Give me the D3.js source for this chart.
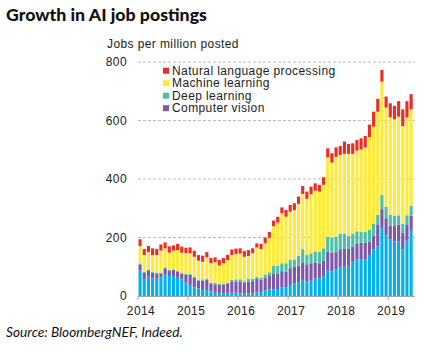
<!DOCTYPE html>
<html><head><meta charset="utf-8">
<script src="https://cdn.jsdelivr.net/npm/d3@7"></script>
<style>
html,body{margin:0;padding:0;background:#fff;}
svg{display:block;}
</style></head>
<body>
<svg id="c" width="431" height="351"></svg>
<script>
// ---- data (cumulative reading converted to series values) ----
const months = d3.range(66).map(i => new Date(2014, i, 1));
const yearLabels = ["2014","2015","2016","2017","2018","2019"];
const yTicks = [0, 200, 400, 600, 800];

// cumulative tops
const totalTop  = [194,161,171,163,161,176,183,170,173,178,169,165,166,155,140,138,150,130,132,123,130,141,159,162,163,154,157,163,180,178,200,219,258,271,303,294,311,317,340,376,357,374,385,380,406,505,488,508,513,528,520,522,533,539,547,586,630,674,773,682,659,650,666,638,666,690];
const mlTop     = [171,140,150,140,140,155,163,148,155,157,148,147,146,134,121,117,132,112,116,104,112,123,140,144,145,134,137,146,166,160,180,199,239,251,283,271,288,294,315,349,332,348,360,357,380,474,456,476,482,486,486,486,497,501,508,543,579,630,733,644,611,604,613,581,610,638];
const dlTop     = [111,82,91,82,80,80,98,89,91,87,80,76,75,67,56,57,60,46,45,42,43,46,55,57,57,51,58,59,66,63,74,81,103,103,112,112,123,125,137,160,140,146,152,152,163,203,200,203,212,212,206,212,221,219,219,226,248,277,345,305,277,275,276,246,276,309];
const cvTop     = [108,79,88,79,77,77,95,87,89,84,77,72,72,63,52,52,56,41,40,38,39,41,48,50,50,46,49,51,59,55,63,71,75,77,85,83,95,100,104,115,106,112,115,112,120,152,148,150,160,161,161,169,180,182,182,186,205,245,297,266,240,239,244,217,243,275];
const otherTop  = [88,58,68,60,59,64,75,68,68,62,57,46,38,30,26,21,21,15,11,9,9,11,11,11,9,8,9,9,12,14,18,23,23,24,30,30,38,43,46,55,49,52,60,60,66,87,84,91,98,100,103,117,125,126,126,140,160,169,233,208,194,186,186,160,189,223];

// series values (each segment)
const other = otherTop.slice();
const computerVision = cvTop.map((v,i) => v - otherTop[i]);
const deepLearning = dlTop.map((v,i) => v - cvTop[i]);
const machineLearning = mlTop.map((v,i) => v - dlTop[i]);
const nlp = totalTop.map((v,i) => v - mlTop[i]);

const seriesKeys = ["other","cv","dl","ml","nlp"];
const seriesColors = {other:"#03b0ee", cv:"#7d57a8", dl:"#4cbfa6", ml:"#ffea3a", nlp:"#ee2c25"};
const legendItems = [
  {key:"nlp", label:"Natural language processing"},
  {key:"ml",  label:"Machine learning"},
  {key:"dl",  label:"Deep learning"},
  {key:"cv",  label:"Computer vision"}
];

const table = months.map((m,i) => ({month:m, other:other[i], cv:computerVision[i], dl:deepLearning[i], ml:machineLearning[i], nlp:nlp[i]}));

// ---- drawing ----
const svg = d3.select("#c");
const font = "'Liberation Sans', Arial, sans-serif";
const x = d3.scaleBand().domain(d3.range(66)).range([138, 413.2]).paddingInner(0.25).paddingOuter(0.125);
const y = d3.scaleLinear().domain([0, 800]).range([296, 62]);

// title
const title = svg.append("text").attr("x", 6).attr("y", 21)
  .attr("font-family", "Lato, 'Open Sans', sans-serif").attr("font-weight", 900)
  .attr("font-size", 16).attr("fill", "#111").text("Growth in AI job postings");
{ const w = title.node().getComputedTextLength(); title.attr("font-size", 16 * 201 / w); }

// axis title
svg.append("text").attr("x", 107).attr("y", 48)
  .attr("font-family", font).attr("font-size", 12).attr("letter-spacing", "0.4px")
  .attr("fill", "#222").text("Jobs per million posted");

// gridlines
svg.append("g").selectAll("line").data(yTicks.filter(d => d > 0)).join("line")
  .attr("x1", 138).attr("x2", 415).attr("y1", d => y(d)).attr("y2", d => y(d))
  .attr("stroke", "#bdbdbd").attr("stroke-width", 1).attr("stroke-dasharray", "3,2");

// y labels
svg.append("g").selectAll("text").data(yTicks).join("text")
  .attr("x", 127).attr("y", d => y(d)).attr("dy", "0.35em").attr("text-anchor", "end")
  .attr("font-family", font).attr("font-size", 12).attr("letter-spacing", "0.4px")
  .attr("fill", "#222").text(d => d);

// stacked bars
const stack = d3.stack().keys(seriesKeys)(table);
svg.append("g").selectAll("g").data(stack).join("g")
  .attr("fill", d => seriesColors[d.key])
  .selectAll("rect").data(d => d.map((v,i) => ({v, i}))).join("rect")
  .attr("x", d => x(d.i)).attr("width", x.bandwidth())
  .attr("y", d => y(d.v[1])).attr("height", d => Math.max(0, y(d.v[0]) - y(d.v[1])));

// baseline
svg.append("line").attr("x1", 138).attr("x2", 415).attr("y1", 296.5).attr("y2", 296.5)
  .attr("stroke", "#a6a6a6").attr("stroke-width", 1);

// x ticks and labels
const yearIdx = yearLabels.map((d,k) => k * 12);
const step = x.step();
svg.append("g").selectAll("line").data(yearIdx).join("line")
  .attr("x1", d => x(d) - step * 0.125).attr("x2", d => x(d) - step * 0.125)
  .attr("y1", 296).attr("y2", 300).attr("stroke", "#a6a6a6");
svg.append("g").selectAll("text").data(yearLabels).join("text")
  .attr("x", (d,k) => x(yearIdx[k]) + 2.5).attr("y", 315).attr("text-anchor", "middle")
  .attr("font-family", font).attr("font-size", 12).attr("letter-spacing", "0.4px")
  .attr("fill", "#222").text(d => d);

// legend
const lg = svg.append("g").selectAll("g").data(legendItems).join("g")
  .attr("transform", (d,i) => `translate(163, ${70.7 + i * 12.5})`);
lg.append("rect").attr("x", 0).attr("y", -3).attr("width", 6).attr("height", 6)
  .attr("fill", d => seriesColors[d.key]);
lg.append("text").attr("x", 9).attr("y", 0).attr("dy", "0.35em")
  .attr("font-family", font).attr("font-size", 12).attr("letter-spacing", "0.4px")
  .attr("fill", "#222").text(d => d.label);

// source
const src = svg.append("text").attr("x", 6).attr("y", 337)
  .attr("font-family", "Lato, 'Open Sans', sans-serif").attr("font-style", "italic")
  .attr("font-size", 12).attr("fill", "#111").text("Source: BloombergNEF, Indeed.");
{ const w = src.node().getComputedTextLength(); src.attr("font-size", 12 * 177 / w); }
</script>
</body></html>
